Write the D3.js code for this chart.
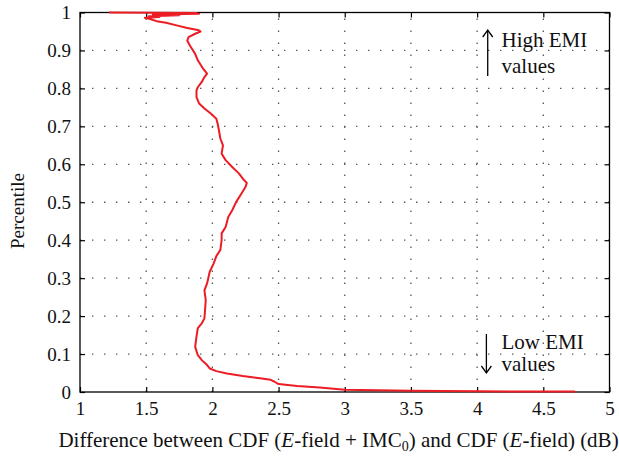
<!DOCTYPE html>
<html>
<head>
<meta charset="utf-8">
<script src="https://cdn.jsdelivr.net/npm/d3@7/dist/d3.min.js"></script>
<style>
  html, body { margin: 0; padding: 0; background: #fff; }
  svg { display: block; }
  text { font-family: "Liberation Serif", "Times New Roman", serif; fill: #111; }
</style>
</head>
<body>
<svg id="chart" width="619" height="456"></svg>
<script>
// Difference (dB) between the two CDFs, listed from the lowest percentile upward
const diffDb = [
  4.74, 4.50, 4.00, 3.50, 3.00, 2.81, 2.64, 2.50, 2.47, 2.44, 2.36, 2.23, 2.11, 2.03,
  1.98, 1.96, 1.92, 1.89, 1.87, 1.88, 1.89, 1.92, 1.94, 1.95, 1.94, 1.96, 1.98, 2.01,
  2.03, 2.06, 2.07, 2.07, 2.10, 2.12, 2.15, 2.18, 2.22, 2.25, 2.26, 2.23, 2.20, 2.15,
  2.10, 2.07, 2.08, 2.06, 2.05, 2.04, 2.03, 1.99, 1.94, 1.90, 1.88, 1.88, 1.89, 1.92,
  1.94, 1.96, 1.93, 1.89, 1.87, 1.83, 1.81, 1.82, 1.87, 1.91, 1.89, 1.81, 1.73, 1.65,
  1.59, 1.53, 1.49, 1.60, 1.52, 1.75, 1.55, 1.90, 1.60, 1.88, 1.22
];
const percentile = [
  0.001, 0.001, 0.002, 0.0035, 0.006, 0.012, 0.016, 0.021, 0.027, 0.032, 0.036, 0.042, 0.049, 0.055,
  0.062, 0.071, 0.084, 0.097, 0.119, 0.146, 0.168, 0.181, 0.194, 0.242, 0.268, 0.286, 0.317, 0.339,
  0.358, 0.374, 0.400, 0.418, 0.435, 0.461, 0.479, 0.501, 0.523, 0.540, 0.551, 0.562, 0.576, 0.593,
  0.611, 0.628, 0.650, 0.668, 0.689, 0.707, 0.720, 0.733, 0.747, 0.760, 0.777, 0.795, 0.803, 0.817,
  0.830, 0.839, 0.852, 0.874, 0.891, 0.913, 0.926, 0.935, 0.944, 0.950, 0.954, 0.959, 0.966, 0.973,
  0.976, 0.983, 0.986, 0.988, 0.990, 0.993, 0.995, 0.997, 0.998, 0.999, 1.000
];
const xTicks = [1, 1.5, 2, 2.5, 3, 3.5, 4, 4.5, 5];
const xTickLabels = ["1", "1.5", "2", "2.5", "3", "3.5", "4", "4.5", "5"];
const yTicks = [0, 0.1, 0.2, 0.3, 0.4, 0.5, 0.6, 0.7, 0.8, 0.9, 1];
const yTickLabels = ["0", "0.1", "0.2", "0.3", "0.4", "0.5", "0.6", "0.7", "0.8", "0.9", "1"];

const svg = d3.select("#chart");
const box = { left: 80, right: 609.5, top: 12.5, bottom: 392 };

const x = d3.scaleLinear().domain([1, 5]).range([box.left, box.right]);
const y = d3.scaleLinear().domain([0, 1]).range([box.bottom, box.top]);

// dotted grid
const grid = svg.append("g");
grid.selectAll("line.v").data(xTicks.slice(1, -1)).join("line")
  .attr("x1", d => x(d)).attr("x2", d => x(d))
  .attr("y1", box.bottom).attr("y2", box.top)
  .attr("stroke", "#555").attr("stroke-width", 1.3)
  .attr("stroke-dasharray", "1.4,10.6");
grid.selectAll("line.h").data(yTicks.slice(1, -1)).join("line")
  .attr("y1", d => y(d)).attr("y2", d => y(d))
  .attr("x1", box.left).attr("x2", box.right)
  .attr("stroke", "#555").attr("stroke-width", 1.3)
  .attr("stroke-dasharray", "1.4,10.6");

// axes with inward ticks on all four sides
const tickLen = 5;
const fmtX = (d, i) => xTickLabels[i];
const fmtY = (d, i) => yTickLabels[i];

const axB = svg.append("g").attr("transform", `translate(0,${box.bottom})`)
  .call(d3.axisBottom(x).tickValues(xTicks).tickFormat(fmtX).tickSizeInner(-tickLen).tickSizeOuter(0).tickPadding(10));
const axT = svg.append("g").attr("transform", `translate(0,${box.top})`)
  .call(d3.axisTop(x).tickValues(xTicks).tickFormat("").tickSizeInner(-tickLen).tickSizeOuter(0));
const axL = svg.append("g").attr("transform", `translate(${box.left},0)`)
  .call(d3.axisLeft(y).tickValues(yTicks).tickFormat(fmtY).tickSizeInner(-tickLen).tickSizeOuter(0).tickPadding(9));
const axR = svg.append("g").attr("transform", `translate(${box.right},0)`)
  .call(d3.axisRight(y).tickValues(yTicks).tickFormat("").tickSizeInner(-tickLen).tickSizeOuter(0));

[axB, axT, axL, axR].forEach(g => {
  g.select(".domain").remove();
  g.selectAll(".tick line").attr("stroke", "#000").attr("stroke-width", 1.2);
  g.selectAll("text").attr("font-family", "Liberation Serif, serif").attr("font-size", 19).attr("fill", "#111");
});
axB.selectAll(".tick text").attr("dy", "0.68em");

// frame
svg.append("rect")
  .attr("x", box.left).attr("y", box.top)
  .attr("width", box.right - box.left).attr("height", box.bottom - box.top)
  .attr("fill", "none").attr("stroke", "#000").attr("stroke-width", 1.3);

// curve
const line = d3.line().x(d => x(d[0])).y(d => y(d[1]));
svg.append("path")
  .datum(diffDb.map((v, i) => [v, percentile[i]]))
  .attr("d", line)
  .attr("fill", "none")
  .attr("stroke", "#ec1c24")
  .attr("stroke-width", 2)
  .attr("stroke-linejoin", "round");

// annotations
function arrow(xp, yTip, yTail) {
  const dir = yTail > yTip ? 1 : -1;
  const g = svg.append("g").attr("stroke", "#000").attr("stroke-width", 1.3).attr("fill", "none");
  g.append("line").attr("x1", xp).attr("x2", xp).attr("y1", yTip).attr("y2", yTail);
  g.append("path").attr("d", `M${xp - 5},${yTip + dir * 7}L${xp},${yTip}L${xp + 5},${yTip + dir * 7}`);
}
arrow(x(4.08), 30, 76);
arrow(x(4.07), 373, 334);

const ann = svg.append("g").attr("font-size", 21);
ann.append("text").attr("x", 501.5).attr("y", 47).text("High EMI");
ann.append("text").attr("x", 501.5).attr("y", 73).text("values");
ann.append("text").attr("x", 501.5).attr("y", 348.5).text("Low EMI");
ann.append("text").attr("x", 501.5).attr("y", 370.5).text("values");

// axis titles
const xt = svg.append("text").attr("x", 338.5).attr("y", 447)
  .attr("text-anchor", "middle").attr("font-size", 21);
xt.append("tspan").text("Difference between CDF (");
xt.append("tspan").attr("font-style", "italic").text("E");
xt.append("tspan").text("-field + IMC");
xt.append("tspan").attr("font-size", 14).attr("dy", 4).text("0");
xt.append("tspan").attr("dy", -4).text(") and CDF (");
xt.append("tspan").attr("font-style", "italic").text("E");
xt.append("tspan").text("-field) (dB)");

svg.append("text")
  .attr("transform", "translate(24,211) rotate(-90)")
  .attr("text-anchor", "middle").attr("font-size", 19)
  .text("Percentile");
</script>
</body>
</html>
